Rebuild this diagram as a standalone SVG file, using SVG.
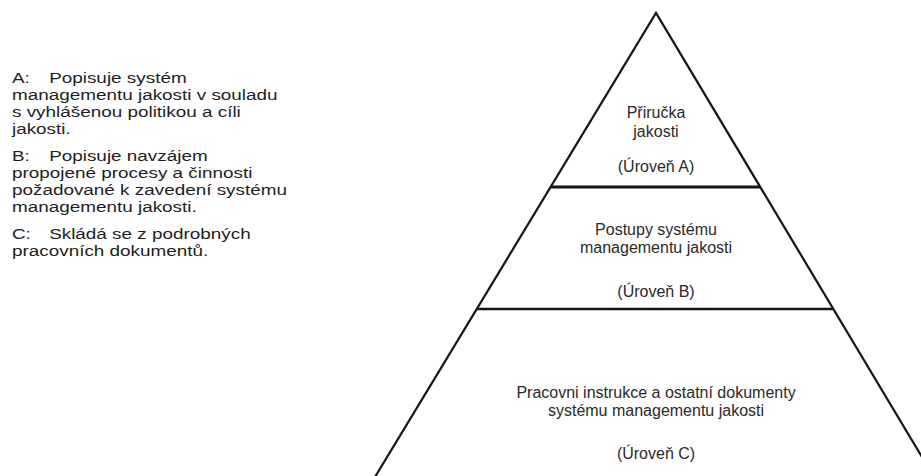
<svg xmlns="http://www.w3.org/2000/svg" width="921" height="476" viewBox="0 0 921 476">
  <style>
    .desc { font-family: "Liberation Sans", Arial, sans-serif; font-size: 15px; fill: #1e1e1e; }
    .lvl { font-family: "Liberation Sans", Arial, sans-serif; font-size: 16px; fill: #2a2a2a; text-anchor: middle; }
    .edge { fill: none; stroke: #151515; stroke-width: 2.2; stroke-linejoin: miter; }
    .split { stroke: #151515; }
  </style>
  <rect width="921" height="476" fill="#ffffff"/>

  <!-- level descriptions, set in a widened face -->
  <g id="descriptions" transform="scale(1.26,1)">
    <g id="desc-a">
      <text class="desc" x="9.5" y="83">A:<tspan x="39">Popisuje systém</tspan></text>
      <text class="desc" x="9.5" y="100">managementu jakosti v souladu</text>
      <text class="desc" x="9.5" y="117">s vyhlášenou politikou a cíli</text>
      <text class="desc" x="9.5" y="134">jakosti.</text>
    </g>
    <g id="desc-b">
      <text class="desc" x="9.5" y="161">B:<tspan x="39">Popisuje navzájem</tspan></text>
      <text class="desc" x="9.5" y="178">propojené procesy a činnosti</text>
      <text class="desc" x="9.5" y="195">požadované k zavedení systému</text>
      <text class="desc" x="9.5" y="212">managementu jakosti.</text>
    </g>
    <g id="desc-c">
      <text class="desc" x="9.5" y="239">C:<tspan x="39">Skládá se z podrobných</tspan></text>
      <text class="desc" x="9.5" y="256">pracovních dokumentů.</text>
    </g>
  </g>

  <!-- pyramid outline and level dividers -->
  <g id="connectors">
    <polyline class="edge" points="375,477 656,13 934,477"/>
    <line class="split" x1="551" y1="187" x2="760" y2="187" stroke-width="3"/>
    <line class="split" x1="476" y1="309" x2="833" y2="309" stroke-width="2.6"/>
  </g>

  <g id="level-a">
    <text class="lvl" x="656" y="118">Přiručka</text>
    <text class="lvl" x="656" y="137">jakosti</text>
    <text class="lvl" x="656" y="172">(Úroveň A)</text>
  </g>

  <g id="level-b">
    <text class="lvl" x="656" y="235">Postupy systému</text>
    <text class="lvl" x="656" y="253">managementu jakosti</text>
    <text class="lvl" x="656" y="297">(Úroveň B)</text>
  </g>

  <g id="level-c">
    <text class="lvl" x="656" y="398">Pracovni instrukce a ostatní dokumenty</text>
    <text class="lvl" x="656" y="416">systému managementu jakosti</text>
    <text class="lvl" x="656" y="459">(Úroveň C)</text>
  </g>
</svg>
